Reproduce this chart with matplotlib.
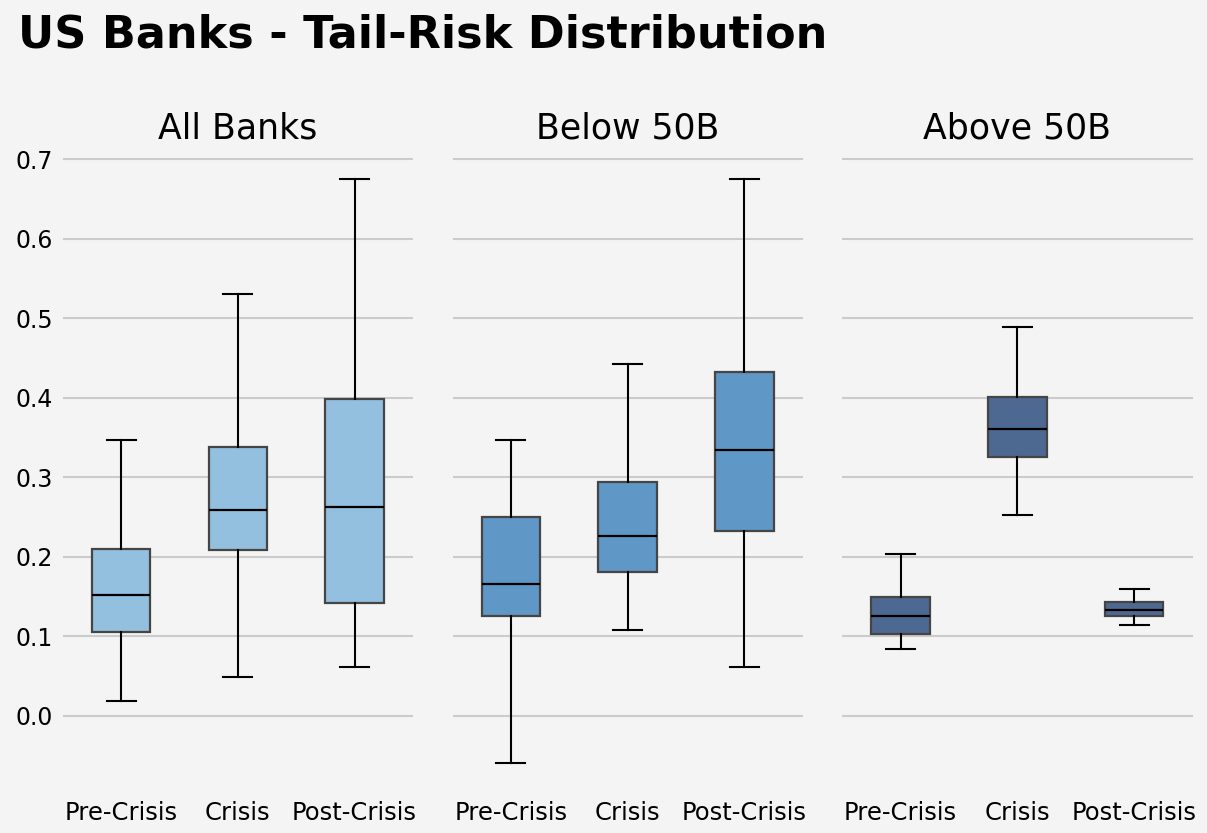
import numpy as np
import matplotlib.pyplot as plt

# Tail-risk box statistics per bank group and period
periods = ["Pre-Crisis", "Crisis", "Post-Crisis"]
groups = ["All Banks", "Below 50B", "Above 50B"]
group_colors = ["#93c0df", "#5f97c6", "#4d6891"]

# whislo, q1, median, q3, whishi for each period
all_banks = [
    [0.019, 0.106, 0.152, 0.210, 0.347],
    [0.049, 0.209, 0.259, 0.338, 0.530],
    [0.062, 0.142, 0.263, 0.398, 0.675],
]
below_50b = [
    [-0.059, 0.126, 0.166, 0.250, 0.347],
    [0.108, 0.181, 0.226, 0.294, 0.442],
    [0.062, 0.233, 0.334, 0.432, 0.675],
]
above_50b = [
    [0.084, 0.103, 0.126, 0.150, 0.204],
    [0.253, 0.326, 0.361, 0.401, 0.489],
    [0.114, 0.126, 0.133, 0.143, 0.160],
]

bg = "#f4f4f4"
fig, axes = plt.subplots(1, 3, figsize=(12.07, 8.33), dpi=100, sharey=True)
fig.patch.set_facecolor(bg)
fig.subplots_adjust(left=0.052, right=0.988, top=0.8205, bottom=0.049, wspace=0.113)

for ax, name, color, data in zip(axes, groups, group_colors, [all_banks, below_50b, above_50b]):
    stats = []
    for lab, (lo, q1, med, q3, hi) in zip(periods, data):
        stats.append({"label": lab, "whislo": lo, "q1": q1, "med": med,
                      "q3": q3, "whishi": hi, "fliers": []})
    ax.bxp(stats, positions=[1, 2, 3], widths=0.5, patch_artist=True, showfliers=False,
           boxprops=dict(facecolor=color, edgecolor="#454545", linewidth=1.6),
           medianprops=dict(color="black", linewidth=1.6),
           whiskerprops=dict(color="black", linewidth=1.5),
           capprops=dict(color="black", linewidth=1.5))
    ax.set_facecolor(bg)
    ax.set_title(name, fontsize=25, pad=8)
    for s in ax.spines.values():
        s.set_visible(False)
    ax.yaxis.grid(True, color="#cbcbcb", linewidth=1.5)
    ax.xaxis.grid(False)
    ax.set_axisbelow(True)
    ax.tick_params(axis="x", length=0, labelsize=17.5, pad=6)
    ax.tick_params(axis="y", length=0, labelsize=17, pad=7)
    ax.set_xlim(0.5, 3.5)

axes[0].set_ylim(-0.096, 0.712)
axes[0].set_yticks(np.arange(0, 0.75, 0.1))
axes[0].set_yticklabels([f"{v:.1f}" for v in np.arange(0, 0.75, 0.1)])

fig.text(0.015, 0.9424, "US Banks - Tail-Risk Distribution", fontsize=32,
         fontweight="bold", va="baseline", ha="left")

fig.savefig("out.png", facecolor=bg)
